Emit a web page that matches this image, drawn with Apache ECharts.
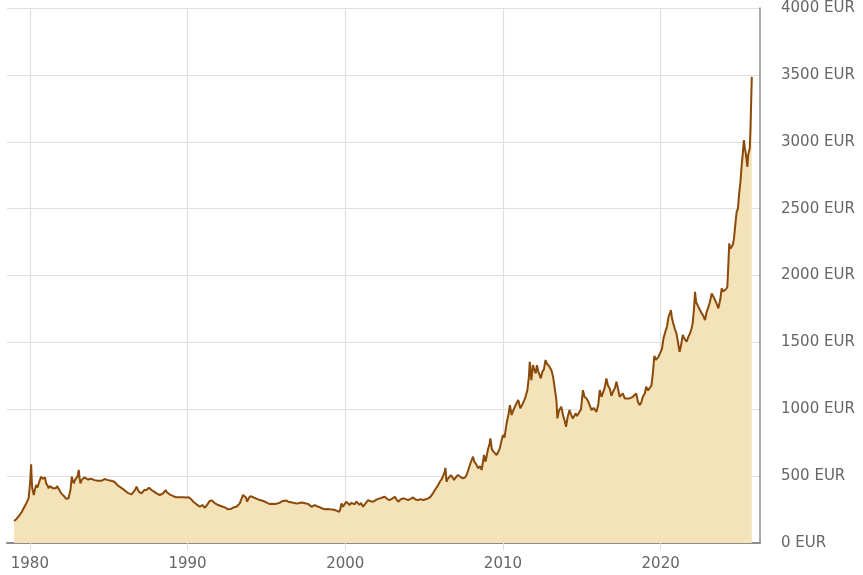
<!DOCTYPE html>
<html>
<head>
<meta charset="utf-8">
<style>
html,body{margin:0;padding:0;background:#fff;}
#chart{width:863px;height:575px;}
</style>
<script src="https://cdn.jsdelivr.net/npm/echarts@6/dist/echarts.min.js"></script>
</head>
<body>
<div id="chart"></div>
<script>
// Time (decimal years)
const years = [
1979.00,1979.15,1979.35,1979.5,1979.56,1979.7,1979.77,1979.85,1979.92,1980.02,1980.08,1980.12,1980.15,1980.25,1980.32,1980.4,1980.48,1980.55,1980.63,1980.72,1980.8,1980.89,1980.96,
1981.03,1981.12,1981.19,1981.27,1981.35,1981.45,1981.57,1981.65,1981.72,1981.78,1981.88,1981.99,
1982.1,1982.2,1982.3,1982.37,1982.45,1982.52,1982.58,1982.66,1982.72,1982.79,1982.86,1982.94,
1983.03,1983.1,1983.16,1983.21,1983.28,1983.36,1983.45,1983.57,1983.67,1983.78,1983.88,1983.99,
1984.1,1984.2,1984.3,1984.42,1984.52,1984.63,1984.74,1984.84,1984.95,
1985.05,1985.15,1985.26,1985.36,1985.47,1985.58,1985.69,1985.8,1985.9,
1986.0,1986.1,1986.2,1986.3,1986.45,1986.55,1986.66,1986.77,1986.84,1986.91,
1987.0,1987.08,1987.17,1987.25,1987.33,1987.4,1987.48,1987.55,1987.63,1987.72,1987.8,1987.88,1987.95,
1988.03,1988.14,1988.24,1988.35,1988.45,1988.53,1988.61,1988.69,1988.77,1988.88,1988.98,
1989.1,1989.2,1989.3,1989.4,1989.5,1989.62,1989.72,1989.83,1989.9,1989.98,
1990.07,1990.15,1990.25,1990.36,1990.46,1990.57,1990.68,1990.78,1990.86,1990.93,
1991.02,1991.1,1991.2,1991.3,1991.4,1991.48,1991.55,1991.62,1991.72,1991.84,1991.94,
1992.05,1992.15,1992.26,1992.36,1992.47,1992.57,1992.68,1992.75,1992.83,1992.95,
1993.1,1993.2,1993.31,1993.42,1993.52,1993.57,1993.63,1993.7,1993.78,1993.88,1993.99,
1994.1,1994.2,1994.27,1994.4,1994.5,1994.58,1994.7,1994.8,1994.9,
1995.05,1995.22,1995.38,1995.54,1995.7,1995.85,1995.98,
1996.1,1996.25,1996.38,1996.55,1996.7,1996.85,
1997.01,1997.15,1997.33,1997.5,1997.65,1997.76,1997.86,1997.96,
1998.07,1998.2,1998.39,1998.55,1998.7,1998.85,
1999.02,1999.18,1999.34,1999.48,1999.61,1999.68,1999.76,1999.86,1999.95,
2000.06,2000.15,2000.27,2000.38,2000.48,2000.6,2000.7,2000.8,2000.9,
2001.0,2001.13,2001.25,2001.35,2001.45,2001.6,2001.77,2001.9,
2002.05,2002.2,2002.35,2002.5,2002.65,2002.8,2002.95,
2003.05,2003.15,2003.25,2003.36,2003.5,2003.67,2003.8,2003.99,
2004.15,2004.3,2004.45,2004.62,2004.78,2004.94,
2005.1,2005.26,2005.4,2005.47,2005.58,2005.68,2005.85,
2006.0,2006.1,2006.2,2006.3,2006.35,2006.42,2006.5,2006.6,2006.7,2006.8,2006.9,
2007.0,2007.15,2007.3,2007.47,2007.6,2007.7,2007.8,2007.95,
2008.1,2008.18,2008.3,2008.43,2008.55,2008.65,2008.8,2008.9,
2009.05,2009.15,2009.2,2009.3,2009.4,2009.5,2009.6,2009.7,2009.8,2009.9,
2010.0,2010.1,2010.23,2010.35,2010.44,2010.55,2010.65,2010.8,2010.97,
2011.1,2011.25,2011.4,2011.55,2011.65,2011.7,2011.8,2011.9,
2012.0,2012.08,2012.15,2012.25,2012.4,2012.5,2012.6,2012.7,2012.8,2012.95,
2013.08,2013.18,2013.3,2013.39,2013.45,2013.55,2013.7,2013.8,2013.9,
2014.0,2014.1,2014.22,2014.32,2014.42,2014.52,2014.6,2014.7,2014.8,2014.95,
2015.07,2015.17,2015.3,2015.4,2015.5,2015.62,2015.75,2015.93,
2016.05,2016.14,2016.25,2016.35,2016.45,2016.56,2016.65,2016.77,2016.88,2016.98,
2017.1,2017.2,2017.3,2017.4,2017.5,2017.6,2017.72,2017.85,
2018.03,2018.15,2018.24,2018.35,2018.45,2018.55,2018.66,2018.77,2018.87,
2019.0,2019.08,2019.2,2019.3,2019.42,2019.5,2019.6,2019.7,2019.85,2019.97,
2020.08,2020.18,2020.3,2020.4,2020.5,2020.6,2020.65,2020.72,2020.8,2020.9,
2021.0,2021.1,2021.2,2021.3,2021.4,2021.5,2021.65,2021.75,2021.86,2021.95,
2022.03,2022.12,2022.18,2022.25,2022.39,2022.5,2022.6,2022.7,2022.81,2022.9,
2023.0,2023.12,2023.24,2023.35,2023.45,2023.55,2023.66,2023.78,2023.87,2023.97,
2024.08,2024.16,2024.23,2024.3,2024.35,2024.42,2024.5,2024.58,2024.65,2024.75,2024.82,2024.9,2024.98,
2025.06,2025.13,2025.2,2025.28,2025.34,2025.4,2025.5,2025.55,2025.6,2025.65,2025.7,2025.74,2025.78
];
// Gold price in EUR per ounce
const prices = [
165,180,209,235,247,280,296,300,334,458,588,470,409,359,400,433,415,409,470,496,480,471,490,
446,430,409,425,433,410,396,410,425,421,395,371,
360,346,330,321,335,346,400,496,470,446,470,483,
500,546,480,446,470,483,490,483,475,471,480,478,
470,471,465,458,465,471,478,483,470,
458,465,471,458,446,430,421,412,409,
395,384,375,371,364,375,396,421,400,384,
380,371,385,396,390,396,405,413,405,396,392,384,380,
371,365,359,365,371,385,396,380,371,362,354,
350,346,342,346,342,339,342,346,340,334,
342,339,325,309,300,289,280,271,282,284,
275,264,280,296,315,329,318,309,298,289,284,
279,275,271,266,259,252,247,255,264,268,
271,280,296,330,359,372,371,340,309,335,351,
345,340,334,330,326,321,318,314,309,
300,291,294,291,296,301,312,
326,318,309,305,301,298,
296,302,301,296,291,280,271,276,
284,275,267,258,252,255,
252,250,247,240,234,250,296,271,285,
309,295,284,300,309,290,310,296,285,
300,271,290,305,321,312,309,318,
328,334,340,346,330,321,330,
340,346,325,309,325,334,330,321,
330,341,325,321,328,321,
327,334,345,359,375,396,425,
458,475,500,530,562,458,480,470,508,490,471,
490,508,495,483,490,510,546,600,
645,608,590,558,575,546,658,608,
700,740,783,700,683,670,658,680,708,760,
807,790,895,960,1031,957,990,1030,1069,
1007,1040,1081,1143,1250,1355,1218,1330,
1290,1268,1330,1280,1231,1280,1300,1368,1340,1318,
1290,1243,1143,1069,932,990,1019,960,919,
869,940,994,960,932,950,969,950,944,1000,
1143,1093,1080,1060,1056,994,1010,981,
1040,1143,1093,1093,1160,1231,1180,1156,1100,1131,
1160,1206,1150,1093,1100,1119,1081,1081,
1081,1090,1093,1105,1119,1060,1031,1050,1093,
1120,1168,1140,1143,1180,1260,1400,1370,1390,1380,
1450,1530,1580,1617,1690,1720,1741,1680,1642,1600,
1567,1500,1430,1480,1555,1530,1505,1540,1567,1600,
1642,1760,1878,1800,1766,1740,1717,1700,1667,1720,
1754,1800,1866,1840,1816,1790,1754,1820,1904,1880,
1866,1900,1916,2100,2240,2200,2190,2230,2277,2400,2476,2500,2614,
2700,2812,2900,3012,2950,2912,2812,2900,2887,2950,3111,3300,3485
];
const xTickValues = [1980, 1990, 2000, 2010, 2020];
const yTicks = [0, 500, 1000, 1500, 2000, 2500, 3000, 3500, 4000];

const seriesData = years.map((y, i) => [y, prices[i]]);
const chart = echarts.init(document.getElementById('chart'), null, {renderer: 'canvas'});
const FONT = 'DejaVu Sans';
chart.setOption({
  animation: false,
  backgroundColor: '#ffffff',
  textStyle: {fontFamily: FONT},
  grid: {left: 7, right: 103, top: 8, bottom: 32, containLabel: false},
  xAxis: {
    type: 'value',
    min: 1978.55,
    max: 2026.3,
    axisLine: {show: true, onZero: false, lineStyle: {color: '#8c8c8c', width: 2}},
    axisTick: {show: true, customValues: xTickValues, length: 7, lineStyle: {color: '#dcdcdc', width: 1}},
    axisLabel: {customValues: xTickValues, color: '#666', fontSize: 15, fontFamily: FONT, margin: 14,
      formatter: v => String(v)},
    splitLine: {show: true, lineStyle: {color: '#e0e0e0', width: 1.2}}
  },
  yAxis: {
    type: 'value',
    position: 'right',
    min: yTicks[0],
    max: yTicks[yTicks.length - 1],
    interval: 500,
    axisLine: {show: true, lineStyle: {color: '#8c8c8c', width: 1.5}},
    axisTick: {show: false},
    axisLabel: {color: '#666', fontSize: 15, fontFamily: FONT, margin: 21,
      formatter: v => v + ' EUR'},
    splitLine: {show: true, lineStyle: {color: '#e0e0e0', width: 1.2}}
  },
  series: [{
    type: 'line',
    data: seriesData,
    showSymbol: false,
    symbol: 'none',
    lineStyle: {color: '#8b4a0b', width: 2},
    areaStyle: {color: '#f4e3b8', opacity: 1},
    z: 3
  }]
});
</script>
</body>
</html>
